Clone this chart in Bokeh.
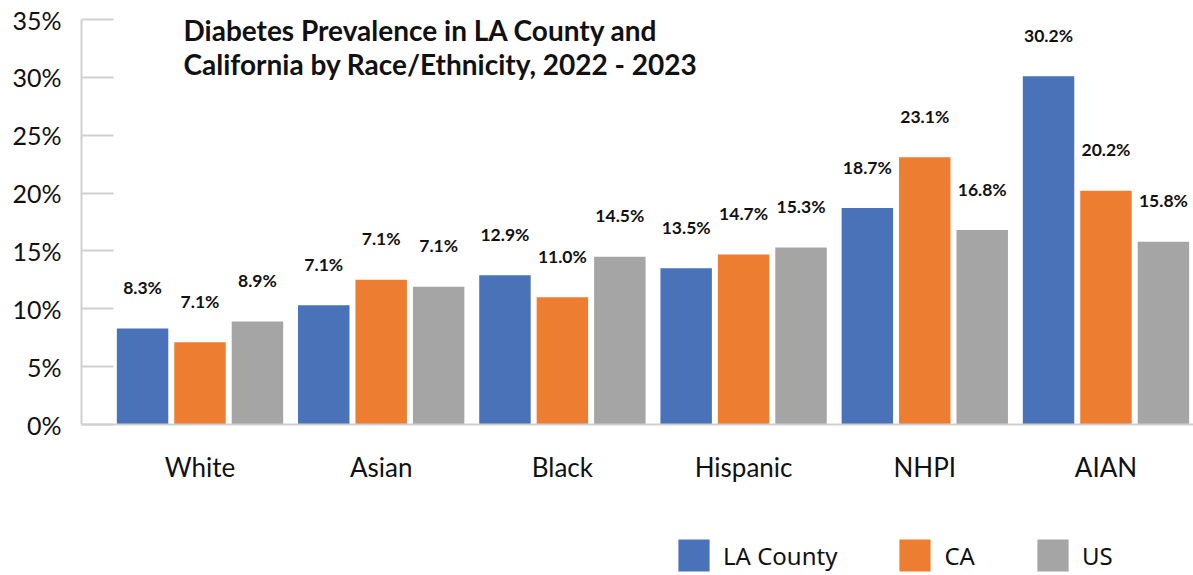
import numpy as np
from bokeh.plotting import figure
from bokeh.layouts import column
from bokeh.core.properties import value
from bokeh.models import (ColumnDataSource, Range1d, FixedTicker, PrintfTickFormatter,
                          Label, LabelSet, Legend, LegendItem)
from bokeh.transform import dodge
from bokeh.embed import file_html
from bokeh.resources import INLINE

categories = ["White", "Asian", "Black", "Hispanic", "NHPI", "AIAN"]
la_county = [8.3, 10.3, 12.9, 13.5, 18.7, 30.1]
california = [7.1, 12.5, 11.0, 14.7, 23.1, 20.2]
united_states = [8.9, 11.9, 14.5, 15.3, 16.8, 15.8]
la_labels = ["8.3%", "7.1%", "12.9%", "13.5%", "18.7%", "30.2%"]
ca_labels = ["7.1%", "7.1%", "11.0%", "14.7%", "23.1%", "20.2%"]
us_labels = ["8.9%", "7.1%", "14.5%", "15.3%", "16.8%", "15.8%"]
series_names = ["LA County", "CA", "US"]
y_ticks = [0, 5, 10, 15, 20, 25, 30, 35]
title_lines = ["Diabetes Prevalence in LA County and",
               "California by Race/Ethnicity, 2022 - 2023"]

colors = ["#4A72B8", "#ED7D31", "#A5A5A5"]
offsets = [-0.317, 0.0, 0.317]
bar_w = 0.284

idx = list(range(len(categories)))
source = ColumnDataSource(dict(idx=idx, la=la_county, ca=california, us=united_states,
                               la_lab=la_labels, ca_lab=ca_labels, us_lab=us_labels))

p = figure(width=1193, height=485, output_backend="svg", toolbar_location=None,
           x_range=Range1d(-0.654, 5.483), y_range=Range1d(0, 35),
           min_border_left=81, min_border_right=0, min_border_top=19, min_border_bottom=60)
p.outline_line_color = None
p.xgrid.grid_line_color = None
p.ygrid.grid_line_color = None
p.background_fill_color = "white"
p.border_fill_color = "white"

renderers = []
for col, lab, color, off in zip(["la", "ca", "us"], ["la_lab", "ca_lab", "us_lab"], colors, offsets):
    r = p.vbar(x=dodge("idx", off, range=p.x_range), top=col, width=bar_w, source=source,
               fill_color=color, line_color=None)
    renderers.append(r)
    ls = LabelSet(x=dodge("idx", off, range=p.x_range), y=col, text=lab, source=source,
                  y_offset=41, text_align="center", text_baseline="middle",
                  text_font=value("Lato"), text_font_style="bold", text_font_size=value("17.5px"),
                  text_color="#111111")
    p.add_layout(ls)

grey = "#D0D0D0"
# x axis
p.xaxis.ticker = FixedTicker(ticks=idx)
p.xaxis.major_label_overrides = {i: c for i, c in enumerate(categories)}
p.xaxis.major_tick_line_color = None
p.xaxis.minor_tick_line_color = None
p.xaxis.axis_line_color = grey
p.xaxis.axis_line_width = 2
p.xaxis.major_label_text_font = "Lato"
p.xaxis.major_label_text_font_size = "26px"
p.xaxis.major_label_text_color = "#111111"
p.xaxis.major_label_standoff = 20

# y axis
p.yaxis.ticker = FixedTicker(ticks=y_ticks)
p.yaxis.formatter = PrintfTickFormatter(format="%d%%")
p.yaxis.axis_line_color = grey
p.yaxis.axis_line_width = 2
p.yaxis.major_tick_line_color = grey
p.yaxis.major_tick_line_width = 2
p.yaxis.major_tick_in = 32
p.yaxis.major_tick_out = 0
p.yaxis.minor_tick_line_color = None
p.yaxis.major_label_text_font = "Lato"
p.yaxis.major_label_text_font_size = "25px"
p.yaxis.major_label_text_color = "#111111"
p.yaxis.major_label_standoff = 20

# title
for i, line in enumerate(title_lines):
    p.add_layout(Label(x=102, y=395 - 34 * i, x_units="screen", y_units="screen", text=line,
                       text_font="Lato", text_font_style="bold", text_font_size="28px",
                       text_color="#111111", text_baseline="alphabetic"))

# legend strip (legend swatches come from off-range proxy bars carrying each series colour)
lg = figure(width=1193, height=90, output_backend="svg", toolbar_location=None,
            x_axis_location=None, y_axis_location=None, x_range=Range1d(0, 1), y_range=Range1d(0, 1),
            min_border=0)
lg.outline_line_color = None
lg.xgrid.grid_line_color = None
lg.ygrid.grid_line_color = None
proxy = ColumnDataSource(dict(x=[-100.0], top=[0.0]))
leg_renderers = [lg.vbar(x="x", top="top", width=0.1, source=proxy, fill_color=c, line_color=None)
                 for c in colors]
legend = Legend(items=[LegendItem(label=n, renderers=[r]) for n, r in zip(series_names, leg_renderers)],
                location=(593, 0), orientation="horizontal", glyph_width=39, glyph_height=40,
                label_text_font="Noto Sans", label_text_font_size="24px", label_text_color="#111111",
                label_standoff=10, spacing=58, padding=0, margin=0,
                border_line_alpha=0, background_fill_alpha=0)
lg.add_layout(legend)

layout = column(p, lg, spacing=0)
open("out.html", "w").write(file_html(layout, INLINE))
